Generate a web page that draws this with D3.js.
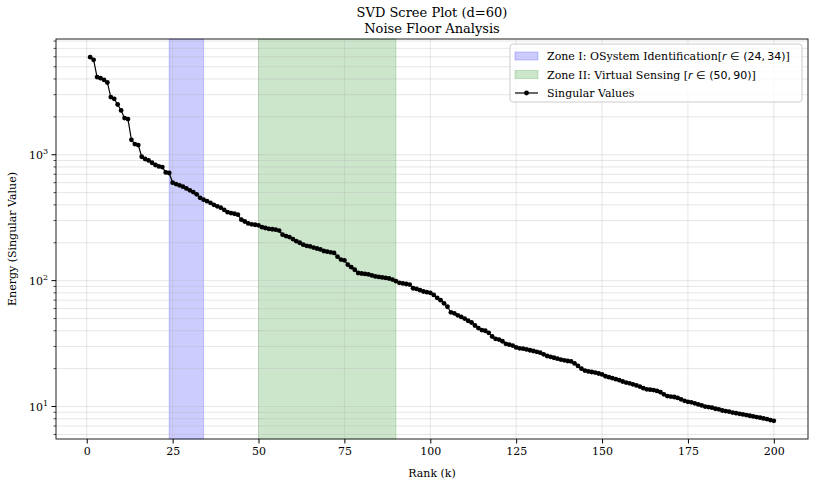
<!DOCTYPE html>
<html>
<head>
<meta charset="utf-8">
<script src="https://cdn.jsdelivr.net/npm/d3@7"></script>
<style>
  body { margin: 0; background: #fff; }
  svg { display: block; font-family: "DejaVu Serif", serif; }
</style>
</head>
<body>
<div id="chart"></div>
<script>
// singular values, rank 1..200
const singularValues = [
  5957, 5675, 4140, 4060, 3940, 3750, 2870, 2780, 2506, 2248,
  1955, 1920, 1315, 1216, 1194, 964, 925, 901, 864, 829,
  808, 798, 724, 716, 600, 585, 572, 558, 540, 522,
  505, 485, 455, 440, 428, 415, 400, 389, 380, 365,
  350, 344, 340, 334, 305, 295, 285, 280, 278, 275,
  266, 262, 258, 256, 254, 250, 232, 226, 222, 214,
  206, 200, 193, 189, 187, 183, 180, 177, 172, 170,
  168, 166, 155, 147, 145, 134, 128, 122, 115, 114,
  113, 112, 110, 108, 107, 106, 105, 104, 102, 99,
  96, 95, 94, 93, 87, 86, 84, 82, 81, 80,
  77, 73, 70, 66, 62, 56, 55, 53, 51.5, 50,
  48, 46.5, 44, 42, 40.5, 40, 38.5, 36, 34.5, 34,
  33, 31.5, 31, 30.5, 29.5, 29, 28.8, 28.4, 28, 27.6,
  27.2, 26.8, 26, 25.2, 24.8, 24.4, 24, 23.6, 23.3, 23,
  22.8, 22, 21, 20, 19.3, 19, 18.8, 18.6, 18.3, 18,
  17.4, 17.1, 16.8, 16.5, 16.2, 15.8, 15.5, 15.3, 15.0, 14.7,
  14.4, 14.0, 13.7, 13.6, 13.5, 13.3, 13.0, 12.5, 12.1, 12.0,
  11.9, 11.7, 11.4, 11.1, 10.9, 10.8, 10.6, 10.4, 10.2, 10.0,
  9.9, 9.8, 9.6, 9.5, 9.3, 9.2, 9.1, 8.95, 8.85, 8.75,
  8.65, 8.55, 8.45, 8.35, 8.25, 8.15, 8.05, 7.95, 7.8, 7.7
];
const ranks = singularValues.map((v, i) => i + 1);

const xTicks = [0, 25, 50, 75, 100, 125, 150, 175, 200];
const yMajorTicks = [10, 100, 1000];
const yTickExponents = ["1", "2", "3"];

const zoneNames = ["Zone I: OSystem Identification[", "Zone II: Virtual Sensing ["];
const zoneStart = [24, 50];
const zoneEnd = [34, 90];
const zoneColors = ["#0000ff", "#008000"];

let config = {
  div: '#chart',
  width: 815,
  height: 485,
  top: 39,
  left: 56,
  bottom: 46,
  right: 7
};

const svg = d3.select(config.div)
  .append("svg")
  .attr("width", config.width)
  .attr("height", config.height);

const innerW = config.width - config.left - config.right;
const innerH = config.height - config.top - config.bottom;

// matplotlib style 5% margins
const xPad = (d3.max(ranks) - d3.min(ranks)) * 0.05;
const x = d3.scaleLinear()
  .domain([d3.min(ranks) - xPad, d3.max(ranks) + xPad])
  .range([config.left, config.left + innerW]);

const lmin = Math.log10(d3.min(singularValues));
const lmax = Math.log10(d3.max(singularValues));
const lPad = (lmax - lmin) * 0.05;
const y = d3.scaleLog()
  .domain([Math.pow(10, lmin - lPad), Math.pow(10, lmax + lPad)])
  .range([config.top + innerH, config.top]);

// minor ticks on log axis
let yMinor = [];
for (let e = 0; e <= 4; e++) {
  for (let m = 2; m <= 9; m++) {
    let v = m * Math.pow(10, e);
    if (v > y.domain()[0] && v < y.domain()[1]) yMinor.push(v);
  }
}

// zones
svg.append("g")
  .selectAll("rect")
  .data(zoneStart)
  .join("rect")
  .attr("x", (d, i) => x(zoneStart[i]))
  .attr("width", (d, i) => x(zoneEnd[i]) - x(zoneStart[i]))
  .attr("y", config.top)
  .attr("height", innerH)
  .attr("fill", (d, i) => zoneColors[i])
  .attr("fill-opacity", 0.2)
  .attr("stroke", (d, i) => zoneColors[i])
  .attr("stroke-opacity", 0.2);

// grid
const grid = svg.append("g")
  .attr("stroke", "#b0b0b0")
  .attr("stroke-opacity", 0.4)
  .attr("stroke-width", 0.8);
grid.selectAll(".gx")
  .data(xTicks)
  .join("line")
  .attr("x1", d => x(d)).attr("x2", d => x(d))
  .attr("y1", config.top).attr("y2", config.top + innerH);
grid.selectAll(".gy")
  .data(yMajorTicks.concat(yMinor))
  .join("line")
  .attr("x1", config.left).attr("x2", config.left + innerW)
  .attr("y1", d => y(d)).attr("y2", d => y(d));

// singular value line
const line = d3.line()
  .x((d, i) => x(ranks[i]))
  .y(d => y(d));
svg.append("path")
  .datum(singularValues)
  .attr("fill", "none")
  .attr("stroke", "black")
  .attr("stroke-width", 1.2)
  .attr("d", line);
svg.append("g")
  .selectAll("circle")
  .data(singularValues)
  .join("circle")
  .attr("cx", (d, i) => x(ranks[i]))
  .attr("cy", d => y(d))
  .attr("r", 2.4)
  .attr("fill", "black");

// frame
svg.append("rect")
  .attr("x", config.left).attr("y", config.top)
  .attr("width", innerW).attr("height", innerH)
  .attr("fill", "none")
  .attr("stroke", "#222")
  .attr("stroke-width", 1);

// x axis
const xAxis = svg.append("g")
  .attr("transform", `translate(0,${config.top + innerH})`)
  .call(d3.axisBottom(x).tickValues(xTicks).tickSize(4.5).tickPadding(4).tickFormat(d3.format("d")));
xAxis.select(".domain").remove();
xAxis.selectAll("text").attr("font-family", "DejaVu Serif").attr("font-size", 11).attr("fill", "#000");

// y axis
const yAxis = svg.append("g")
  .attr("transform", `translate(${config.left},0)`);
yAxis.selectAll(".major")
  .data(yMajorTicks)
  .join("line")
  .attr("x1", -4.5).attr("x2", 0)
  .attr("y1", d => y(d)).attr("y2", d => y(d))
  .attr("stroke", "black");
yAxis.selectAll(".minor")
  .data(yMinor)
  .join("line")
  .attr("x1", -2.5).attr("x2", 0)
  .attr("y1", d => y(d)).attr("y2", d => y(d))
  .attr("stroke", "black")
  .attr("stroke-width", 0.7);
const yLabels = yAxis.selectAll("text")
  .data(yMajorTicks)
  .join("text")
  .attr("x", -8)
  .attr("y", d => y(d) + 4)
  .attr("text-anchor", "end")
  .attr("font-size", 11);
yLabels.append("tspan").text("10");
yLabels.append("tspan")
  .attr("dy", -5)
  .attr("font-size", 8)
  .text((d, i) => yTickExponents[i]);

// labels
svg.append("text")
  .attr("x", config.left + innerW / 2)
  .attr("y", 477)
  .attr("text-anchor", "middle")
  .attr("font-size", 11)
  .text("Rank (k)");
svg.append("text")
  .attr("transform", `translate(16,${config.top + innerH / 2}) rotate(-90)`)
  .attr("text-anchor", "middle")
  .attr("font-size", 11)
  .text("Energy (Singular Value)");

const title = svg.append("text")
  .attr("x", config.left + innerW / 2)
  .attr("text-anchor", "middle")
  .attr("font-size", 13);
title.append("tspan").attr("x", config.left + innerW / 2).attr("y", 17).text("SVD Scree Plot (d=60)");
title.append("tspan").attr("x", config.left + innerW / 2).attr("y", 33).text("Noise Floor Analysis");

// legend
const lg = svg.append("g").attr("transform", "translate(510,44)");
lg.append("rect")
  .attr("width", 292).attr("height", 58)
  .attr("rx", 3)
  .attr("fill", "white").attr("fill-opacity", 0.8)
  .attr("stroke", "#ccc");
zoneNames.forEach((name, i) => {
  let ry = 12 + i * 18.5;
  lg.append("rect")
    .attr("x", 5).attr("y", ry - 4)
    .attr("width", 23).attr("height", 8)
    .attr("fill", zoneColors[i]).attr("fill-opacity", 0.2)
    .attr("stroke", zoneColors[i]).attr("stroke-opacity", 0.2);
  let t = lg.append("text")
    .attr("x", 37).attr("y", ry + 4)
    .attr("font-size", 11);
  t.append("tspan").text(name);
  t.append("tspan").attr("font-family", "DejaVu Sans").attr("font-style", "italic").text("r");
  t.append("tspan").attr("font-family", "DejaVu Sans").text(` \u2208 (${zoneStart[i]},\u2009${zoneEnd[i]})`);
  t.append("tspan").text("]");
});
lg.append("line")
  .attr("x1", 5).attr("x2", 28)
  .attr("y1", 49).attr("y2", 49)
  .attr("stroke", "black").attr("stroke-width", 1.2);
lg.append("circle").attr("cx", 16.5).attr("cy", 49).attr("r", 2.4).attr("fill", "black");
lg.append("text")
  .attr("x", 37).attr("y", 53)
  .attr("font-size", 11)
  .text("Singular Values");
</script>
</body>
</html>
